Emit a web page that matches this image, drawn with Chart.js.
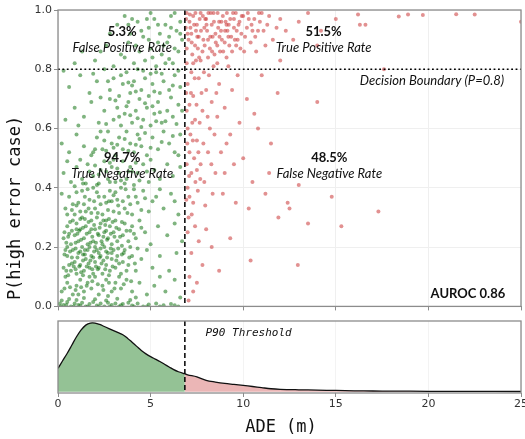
<!DOCTYPE html>
<html>
<head>
<meta charset="utf-8">
<script src="https://cdn.jsdelivr.net/npm/chart.js@4"></script>
<style>
html, body { margin: 0; padding: 0; background: #fff; overflow: hidden; width: 525px; height: 439px; }
#topChart { position: absolute; left: 0; top: 0; }
#kdeChart { position: absolute; left: 0; top: 315px; }
</style>
</head>
<body>
<canvas id="topChart" width="540" height="315"></canvas>
<canvas id="kdeChart" width="540" height="124"></canvas>
<script>
// =========================
// Data
// =========================
const p90Threshold = 6.85;
const decisionP = 0.8;
const xTicks = [0, 5, 10, 15, 20, 25];
const yTicks = [0, 0.2, 0.4, 0.6, 0.8, 1.0];
const rateValues = ['5.3%', '51.5%', '94.7%', '48.5%'];
const rateNames = ['False Positive Rate', 'True Positive Rate', 'True Negative Rate', 'False Negative Rate'];
const aurocText = 'AUROC 0.86';

// ADE below threshold (green)
const greenPoints = [
  [0.1,0.01],[0.3,0.005],[0.5,0.015],[0.7,0.0],[0.9,0.01],[1.1,0.005],[1.3,0.012],[1.5,0.0],[1.7,0.008],[1.9,0.015],
  [2.1,0.003],[2.3,0.01],[2.5,0.0],[2.7,0.012],[2.9,0.005],[3.1,0.01],[3.3,0.0],[3.5,0.008],[3.8,0.012],[4.0,0.003],
  [4.3,0.01],[4.6,0.0],[4.9,0.006],[5.3,0.01],[5.7,0.004],[6.1,0.008],[6.5,0.0],[0.2,0.02],[0.6,0.025],[1.0,0.022],
  [1.4,0.028],[2.0,0.024],[2.6,0.02],[3.2,0.026],[3.9,0.022],
  [0.15,0.0],[0.45,0.005],[0.85,0.0],[1.2,0.003],[1.6,0.0],[2.2,0.0],[2.8,0.0],[3.4,0.004],[4.1,0.0],[4.8,0.0],[5.5,0.0],[6.3,0.004],
  [0.2,0.05],[0.5,0.08],[0.8,0.04],[1.0,0.07],[1.2,0.09],[1.4,0.05],[1.6,0.08],[1.8,0.06],[2.0,0.1],[2.2,0.04],
  [2.4,0.07],[2.6,0.09],[2.9,0.05],[3.1,0.08],[3.4,0.06],[3.7,0.09],[4.0,0.05],[4.4,0.08],[4.8,0.04],[5.2,0.07],
  [5.8,0.05],[6.3,0.09],[0.4,0.1],[1.1,0.04],[1.7,0.1],[2.7,0.035],[3.3,0.1],[4.2,0.03],[5.5,0.1],[6.6,0.03],
  [0.35,0.06],[0.65,0.065],[0.95,0.055],[1.25,0.065],[1.55,0.07],[1.85,0.085],[2.15,0.075],[2.45,0.055],[2.75,0.08],[3.05,0.06],
  [3.55,0.075],[3.95,0.085],
  [0.3,0.13],[0.5,0.17],[0.7,0.12],[0.8,0.19],[0.9,0.15],[1.0,0.11],[1.1,0.18],[1.2,0.14],[1.3,0.2],[1.4,0.12],
  [1.5,0.16],[1.6,0.19],[1.7,0.13],[1.8,0.17],[1.9,0.11],[2.0,0.15],[2.1,0.19],[2.2,0.13],[2.3,0.17],[2.4,0.11],
  [2.5,0.2],[2.6,0.14],[2.7,0.18],[2.8,0.12],[2.9,0.16],[3.0,0.19],[3.1,0.13],[3.2,0.17],[3.4,0.11],[3.5,0.15],
  [3.6,0.19],[3.8,0.14],[4.0,0.17],[4.2,0.12],[4.5,0.16],[4.8,0.19],[5.1,0.13],[5.5,0.17],[6.0,0.12],[6.4,0.18],
  [0.6,0.14],[1.05,0.165],[1.55,0.135],[1.95,0.185],[2.45,0.155],[2.85,0.195],[3.3,0.145],[0.4,0.19],[1.25,0.115],[2.15,0.125],
  [3.7,0.12],[4.3,0.195],[1.75,0.155],[2.35,0.145],[0.85,0.135],
  [0.45,0.12],[0.75,0.145],[0.95,0.125],[1.15,0.135],[1.35,0.155],[1.45,0.175],[1.65,0.145],[1.85,0.125],[2.05,0.135],[2.25,0.165],
  [2.55,0.125],[2.65,0.165],[2.95,0.135],[3.15,0.155],[3.45,0.175],[3.85,0.165],[4.15,0.145],[0.55,0.105],[1.35,0.105],[2.75,0.105],
  [0.35,0.175],[0.65,0.185],[0.95,0.195],[1.2,0.185],[1.45,0.19],[1.7,0.2],[2.0,0.2],[2.3,0.195],[2.6,0.185],[2.9,0.18],
  [3.25,0.195],[3.55,0.18],[0.75,0.165],[1.9,0.165],[2.2,0.18],[1.35,0.175],[0.5,0.2],[3.9,0.2],
  [0.3,0.23],[0.5,0.27],[0.7,0.21],[0.8,0.29],[0.9,0.24],[1.0,0.28],[1.1,0.22],[1.2,0.26],[1.3,0.3],[1.4,0.23],
  [1.5,0.27],[1.6,0.21],[1.7,0.25],[1.8,0.29],[1.9,0.22],[2.0,0.26],[2.1,0.3],[2.2,0.24],[2.3,0.28],[2.4,0.21],
  [2.5,0.25],[2.6,0.29],[2.7,0.23],[2.8,0.27],[2.9,0.21],[3.0,0.25],[3.1,0.29],[3.2,0.22],[3.3,0.26],[3.5,0.24],
  [3.6,0.28],[3.8,0.22],[4.0,0.27],[4.2,0.23],[4.4,0.29],[4.7,0.25],[5.0,0.21],[5.4,0.27],[5.9,0.24],[6.3,0.28],
  [6.7,0.22],[0.6,0.245],[1.15,0.255],[1.65,0.285],[2.05,0.215],[2.55,0.275],[3.05,0.235],[3.45,0.205],[0.45,0.215],[1.45,0.295],
  [2.25,0.265],[2.75,0.295],[3.9,0.255],[1.85,0.235],[2.45,0.235],
  [0.35,0.25],[0.55,0.235],[0.75,0.255],[0.95,0.215],[1.05,0.245],[1.25,0.225],[1.35,0.265],[1.55,0.245],[1.75,0.215],[1.95,0.275],
  [2.15,0.245],[2.35,0.22],[2.65,0.225],[2.85,0.245],[3.15,0.265],[3.35,0.235],[3.7,0.255],[4.1,0.245],[4.5,0.265],[0.65,0.285],
  [1.2,0.295],[2.45,0.29],[2.95,0.285],[3.45,0.285],[1.0,0.26],[1.8,0.26],[2.6,0.255],
  [0.4,0.33],[0.6,0.37],[0.9,0.31],[1.1,0.35],[1.3,0.39],[1.5,0.32],[1.7,0.36],[1.9,0.4],[2.0,0.33],[2.2,0.37],
  [2.4,0.31],[2.6,0.35],[2.8,0.39],[3.0,0.32],[3.2,0.36],[3.4,0.4],[3.6,0.33],[3.8,0.37],[4.0,0.31],[4.3,0.35],
  [4.6,0.39],[4.9,0.32],[5.3,0.37],[5.7,0.33],[6.1,0.38],[6.5,0.31],[0.2,0.38],[1.0,0.385],[1.4,0.345],[1.8,0.315],
  [2.3,0.345],[2.7,0.325],[3.1,0.385],[3.5,0.355],[4.1,0.395],[4.5,0.325],[5.1,0.355],[2.1,0.385],[1.6,0.395],[2.9,0.355],
  [3.3,0.315],[0.8,0.345],[5.5,0.395],[6.3,0.355],[3.9,0.345],
  [0.5,0.31],[0.75,0.325],[1.0,0.34],[1.2,0.32],[1.45,0.37],[1.65,0.33],[1.95,0.355],[2.15,0.315],[2.5,0.37],[2.75,0.355],
  [3.0,0.375],[3.25,0.34],[3.65,0.395],[3.75,0.315],[4.2,0.37],[0.9,0.405],[1.35,0.415],[2.2,0.415],[2.8,0.42],[3.4,0.425],[4.7,0.365],
  [0.3,0.45],[0.7,0.42],[1.0,0.47],[1.3,0.43],[1.6,0.48],[1.9,0.44],[2.1,0.41],[2.3,0.46],[2.5,0.49],[2.7,0.43],
  [2.9,0.47],[3.1,0.42],[3.3,0.45],[3.5,0.49],[3.7,0.43],[3.9,0.47],[4.1,0.41],[4.3,0.45],[4.6,0.48],[4.9,0.42],
  [5.2,0.46],[5.5,0.43],[5.9,0.48],[6.2,0.44],[6.6,0.47],[1.5,0.415],[2.0,0.475],[2.6,0.455],[3.0,0.495],[3.6,0.415],
  [4.0,0.455],[4.4,0.425],[5.0,0.495],[0.5,0.49],[1.2,0.495],
  [1.7,0.455],[2.2,0.445],[2.8,0.485],[3.2,0.465],[3.8,0.455],[4.2,0.485],[4.8,0.455],
  [0.2,0.55],[0.6,0.52],[1.0,0.58],[1.4,0.54],[1.8,0.51],[2.1,0.57],[2.4,0.53],[2.7,0.59],[2.9,0.55],[3.1,0.51],
  [3.3,0.57],[3.5,0.53],[3.7,0.59],[3.9,0.55],[4.1,0.52],[4.3,0.58],[4.5,0.54],[4.8,0.51],[5.1,0.57],[5.4,0.53],
  [5.7,0.59],[6.0,0.55],[6.3,0.52],[6.6,0.58],[2.5,0.56],[3.0,0.535],[3.6,0.565],[4.2,0.545],[4.7,0.585],[2.0,0.53],
  [1.9,0.52],[2.3,0.59],[2.6,0.525],[3.2,0.545],[3.8,0.525],[4.4,0.565],[5.0,0.535],[5.6,0.555],[6.2,0.575],[6.5,0.51],
  [0.4,0.63],[0.9,0.67],[1.4,0.64],[1.8,0.69],[2.2,0.62],[2.5,0.66],[2.8,0.7],[3.0,0.63],[3.2,0.67],[3.4,0.61],
  [3.6,0.65],[3.8,0.69],[4.0,0.62],[4.2,0.66],[4.4,0.7],[4.6,0.63],[4.8,0.67],[5.0,0.61],[5.2,0.65],[5.4,0.69],
  [5.6,0.62],[5.9,0.66],[6.2,0.64],[6.5,0.68],[3.1,0.695],[3.9,0.645],[4.5,0.605],[2.6,0.615],[1.1,0.61],[5.3,0.625],
  [3.3,0.64],[3.7,0.675],[4.3,0.635],[4.7,0.685],[5.1,0.675],[5.5,0.655],[5.8,0.625],[6.4,0.615],[6.7,0.66],
  [0.6,0.74],[1.2,0.78],[1.7,0.72],[2.1,0.76],[2.5,0.8],[2.8,0.73],[3.0,0.77],[3.3,0.71],[3.5,0.75],[3.7,0.79],
  [3.9,0.72],[4.1,0.76],[4.3,0.8],[4.5,0.73],[4.7,0.77],[4.9,0.71],[5.1,0.75],[5.3,0.79],[5.5,0.72],[5.7,0.76],
  [6.0,0.73],[6.3,0.78],[6.6,0.74],[0.3,0.795],[1.9,0.785],[4.0,0.745],[5.0,0.785],[6.1,0.705],
  [3.4,0.78],[3.8,0.755],[4.2,0.725],[4.6,0.795],[5.2,0.725],[5.6,0.785],[6.2,0.745],[6.5,0.795],[2.3,0.705],[2.7,0.76],
  [1.3,0.86],[2.0,0.83],[2.6,0.88],[3.0,0.81],[3.4,0.85],[3.8,0.89],[4.1,0.82],[4.4,0.86],[4.7,0.83],[5.0,0.87],
  [5.3,0.81],[5.6,0.85],[5.9,0.89],[6.2,0.82],[6.5,0.86],[6.7,0.9],[4.9,0.9],[5.7,0.88],[2.3,0.86],[3.6,0.84],
  [0.9,0.82],[6.0,0.835],[4.2,0.88],[4.5,0.93],[5.1,0.84],[5.4,0.89],[5.8,0.82],[6.3,0.87],[6.6,0.92],
  [3.2,0.95],[3.9,0.92],[4.3,0.96],[4.6,0.91],[4.9,0.94],[5.2,0.97],[5.5,0.92],[5.8,0.95],[6.1,0.98],[6.4,0.93],
  [6.6,0.96],[2.8,0.92],[3.6,0.98],[5.0,0.99],[6.0,0.91],[5.4,0.95],[6.3,0.99],[4.0,0.97],[4.8,0.97],[3.8,0.95],[6.1,0.94]
];

// ADE above threshold (red)
const redPoints = [
  [6.95,0.99],[7.1,0.96],[7.2,0.92],[7.3,0.98],[7.4,0.88],[7.5,0.95],[7.6,0.91],[7.7,0.99],[7.8,0.86],[7.9,0.94],
  [8.0,0.97],[8.1,0.9],[8.2,0.87],[8.3,0.95],[8.4,0.99],[8.5,0.92],[8.6,0.88],[8.7,0.96],[8.8,0.93],[8.9,0.98],
  [9.0,0.89],[9.1,0.95],[9.2,0.91],[9.3,0.97],[9.4,0.86],[9.5,0.94],[9.6,0.99],[9.7,0.9],[9.8,0.96],[9.9,0.92],
  [10.0,0.98],[10.2,0.94],[10.4,0.89],[10.6,0.97],[10.8,0.93],[11.0,0.99],[11.3,0.95],[11.6,0.9],[12.0,0.97],[12.3,0.93],
  [7.05,0.9],[7.25,0.85],[7.45,0.93],[7.65,0.97],[7.85,0.9],[8.05,0.93],[8.25,0.99],[8.45,0.85],[8.65,0.94],[8.85,0.9],
  [9.05,0.96],[9.25,0.88],[9.45,0.99],[9.65,0.93],[9.85,0.87],[10.1,0.91],[10.3,0.97],[10.5,0.93],[10.7,0.86],[10.9,0.96],
  [11.2,0.88],[7.15,0.94],[7.55,0.87],[7.95,0.97],[8.35,0.91],[8.75,0.86],[9.15,0.93],[9.55,0.9],[6.9,0.94],[6.95,0.87],
  [6.92,0.97],[7.0,0.92],[7.12,0.985],[7.22,0.89],[7.35,0.95],[7.42,0.99],[7.52,0.91],[7.62,0.84],[7.72,0.93],[7.82,0.98],
  [7.92,0.88],[8.02,0.95],[8.12,0.99],[8.22,0.91],[8.32,0.86],[8.42,0.96],[8.52,0.89],[8.62,0.99],[8.72,0.91],[8.82,0.96],
  [8.92,0.86],[9.02,0.93],[9.12,0.99],[9.22,0.95],[9.35,0.91],[9.5,0.97],[9.62,0.88],[9.75,0.95],[9.92,0.98],[10.05,0.86],
  [10.25,0.99],[10.45,0.95],[10.65,0.91],[10.85,0.99],[11.1,0.93],[11.4,0.98],[11.8,0.94],[7.3,0.82],[7.7,0.83],[8.1,0.84],
  [8.6,0.82],[9.1,0.84],
  [6.95,0.82],[7.0,0.75],[7.1,0.68],[7.2,0.79],[7.0,0.6],[7.1,0.52],[7.3,0.71],[7.4,0.63],[7.2,0.45],[7.0,0.4],
  [7.5,0.56],[7.6,0.77],[7.3,0.35],[7.8,0.66],[7.7,0.48],[8.0,0.73],[8.2,0.6],[7.9,0.42],[8.1,0.52],[8.4,0.81],
  [8.3,0.69],[8.5,0.45],[7.05,0.3],[7.45,0.83],[7.15,0.58],[7.35,0.5],[7.55,0.39],[7.65,0.62],[7.75,0.72],[7.85,0.55],
  [7.95,0.34],[8.15,0.78],[8.35,0.38],[8.45,0.58],[6.95,0.48],[6.95,0.66],[7.25,0.62],[7.5,0.46],[7.1,0.37],[8.6,0.64],
  [8.7,0.75],[8.8,0.52],[9.0,0.67],[9.2,0.81],[9.3,0.58],
  [6.92,0.72],[6.98,0.55],[7.08,0.44],[7.18,0.72],[7.28,0.56],[7.38,0.77],[7.48,0.68],[7.58,0.52],[7.68,0.43],[7.88,0.79],
  [8.08,0.64],[8.28,0.48],[6.93,0.36],[7.22,0.31],[7.42,0.42],[8.55,0.72],[9.1,0.55],[9.7,0.78],[10.6,0.65],[11.4,0.45],
  [9.0,0.45],[9.4,0.73],[9.6,0.35],[9.8,0.62],[10.0,0.5],[10.2,0.7],[10.5,0.42],[10.8,0.6],[11.0,0.78],[11.2,0.38],
  [11.5,0.55],[11.86,0.72],[12.0,0.83],[12.4,0.35],[12.5,0.33],[13.0,0.41],[13.5,0.28],[14.0,0.69],[14.78,0.37],[15.3,0.27],
  [17.3,0.32],[11.9,0.3],[9.5,0.48],[10.3,0.33],[8.9,0.38],
  [7.0,0.25],[7.2,0.18],[7.4,0.27],[7.1,0.1],[7.6,0.22],[7.3,0.05],[7.8,0.14],[8.0,0.26],[8.3,0.2],[7.05,0.02],
  [8.7,0.12],[9.3,0.23],[10.4,0.155],[12.95,0.14],[7.5,0.08],
  [13.0,0.96],[13.5,0.99],[14.2,0.93],[15.0,0.97],[16.2,0.985],[16.3,0.95],[16.6,0.95],[17.6,0.8],[18.4,0.978],[18.9,0.985],
  [19.7,0.983],[21.5,0.986],[22.5,0.985],[25.0,0.96],[14.0,0.88],[12.7,0.9]
];

// ADE density curve (peak scaled to 1)
const kdeX = [0,0.25,0.5,0.75,1,1.25,1.5,1.75,2,2.25,2.5,2.75,3,3.25,3.5,3.75,4,4.25,4.5,4.75,5,5.25,5.5,5.75,6,6.25,6.5,6.85,
              7,7.5,8,8.5,9,9.5,10,10.5,11,11.5,12,13,14,15,16,17,18,20,22,25];
const kdeY = [0.34,0.45,0.56,0.68,0.80,0.90,0.97,1.0,1.0,0.98,0.95,0.92,0.89,0.86,0.83,0.78,0.72,0.66,0.60,0.55,0.51,0.475,0.44,0.40,0.36,0.32,0.29,0.26,
              0.245,0.215,0.165,0.14,0.12,0.105,0.09,0.075,0.058,0.042,0.034,0.027,0.022,0.017,0.012,0.009,0.007,0.005,0.003,0.002];

// =========================
// Shared style
// =========================
const frameGray = '#8c8c8c';
const tickFont = { family: 'DejaVu Sans', size: 11 };
const tickColor = '#333';
const labelFont = 'Lato, "Noto Sans", sans-serif';
Chart.defaults.font.family = 'DejaVu Sans';
Chart.defaults.animation = false;

const kdePairs = kdeX.map((x, i) => ({ x: x, y: kdeY[i] }));
const kdeGreen = kdePairs.filter(p => p.x <= p90Threshold);
const kdeRed = kdePairs.filter(p => p.x >= p90Threshold);

function setTicks(values) {
    return scale => { scale.ticks = values.map(v => ({ value: v })); };
}

// =========================
// Top: scatter overlay plugin
// =========================
const topOverlay = {
    id: 'topOverlay',
    afterDatasetsDraw(chart) {
        const { ctx, chartArea: a, scales: { x, y } } = chart;
        ctx.save();
        ctx.strokeStyle = '#000';
        ctx.lineWidth = 1.5;

        // decision boundary
        ctx.setLineDash([1.8, 2.6]);
        const by = y.getPixelForValue(decisionP);
        ctx.beginPath(); ctx.moveTo(a.left, by); ctx.lineTo(a.right, by); ctx.stroke();

        // threshold
        ctx.setLineDash([5, 3]);
        const tx = x.getPixelForValue(p90Threshold);
        ctx.beginPath(); ctx.moveTo(tx, a.top); ctx.lineTo(tx, a.bottom); ctx.stroke();
        ctx.setLineDash([]);

        // frame
        ctx.strokeStyle = frameGray;
        ctx.lineWidth = 1.3;
        ctx.strokeRect(a.left, a.top, a.width, a.height);

        // rate labels
        ctx.fillStyle = '#111';
        ctx.textAlign = 'center';
        ctx.textBaseline = 'middle';
        const spots = [[3.47, 0.927, 0.873], [14.34, 0.927, 0.873], [3.47, 0.502, 0.447], [14.65, 0.500, 0.447]];
        spots.forEach((s, i) => {
            const px = x.getPixelForValue(s[0]);
            ctx.font = 'bold 13px ' + labelFont;
            ctx.fillText(rateValues[i], px, y.getPixelForValue(s[1]));
            ctx.font = 'italic 13px ' + labelFont;
            ctx.fillText(rateNames[i], px, y.getPixelForValue(s[2]));
        });

        ctx.textAlign = 'right';
        ctx.font = 'italic 13px ' + labelFont;
        ctx.fillText('Decision Boundary (P=0.8)', x.getPixelForValue(24.09), y.getPixelForValue(0.761));
        ctx.font = 'bold 13px ' + labelFont;
        ctx.fillText(aurocText, x.getPixelForValue(24.15), y.getPixelForValue(0.041));

        // y axis title
        ctx.translate(16, 208);
        ctx.rotate(-Math.PI / 2);
        ctx.textAlign = 'center';
        ctx.font = '17px "DejaVu Sans Mono", monospace';
        ctx.fillText('P(high error case)', 0, 0);
        ctx.restore();
    }
};

new Chart(document.getElementById('topChart'), {
    type: 'scatter',
    data: {
        datasets: [
            { label: 'below', data: greenPoints.map(p => ({ x: p[0], y: p[1] })),
              backgroundColor: 'rgba(0,105,0,0.5)', pointRadius: 2, borderWidth: 0 },
            { label: 'above', data: redPoints.map(p => ({ x: p[0], y: p[1] })),
              backgroundColor: 'rgba(205,65,65,0.58)', pointRadius: 2, borderWidth: 0 }
        ]
    },
    options: {
        responsive: false,
        layout: { padding: { top: 10, right: 19, left: 0, bottom: 0 } },
        plugins: { legend: { display: false }, tooltip: { enabled: false } },
        scales: {
            x: {
                type: 'linear', min: 0, max: 25,
                afterBuildTicks: setTicks(xTicks),
                ticks: { callback: () => '', font: tickFont },
                grid: { color: '#efefef', tickColor: frameGray, tickLength: 4 },
                border: { display: false },
                afterFit: s => { s.height = 5; }
            },
            y: {
                min: 0, max: 1,
                afterBuildTicks: setTicks(yTicks),
                ticks: { callback: v => v.toFixed(1), font: tickFont, color: tickColor, padding: 2 },
                grid: { color: '#efefef', tickColor: frameGray, tickLength: 4 },
                border: { display: false },
                afterFit: s => { s.width = 58; }
            }
        }
    },
    plugins: [topOverlay]
});

// =========================
// Bottom: ADE density
// =========================
const kdeOverlay = {
    id: 'kdeOverlay',
    afterDatasetsDraw(chart) {
        const { ctx, chartArea: a, scales: { x, y } } = chart;
        ctx.save();
        ctx.strokeStyle = '#000';
        ctx.lineWidth = 1.5;
        ctx.setLineDash([5, 3]);
        const tx = x.getPixelForValue(p90Threshold);
        ctx.beginPath(); ctx.moveTo(tx, a.top); ctx.lineTo(tx, a.bottom); ctx.stroke();
        ctx.setLineDash([]);

        ctx.strokeStyle = frameGray;
        ctx.lineWidth = 1.3;
        ctx.strokeRect(a.left, a.top, a.width, a.height);

        ctx.fillStyle = '#111';
        ctx.textBaseline = 'middle';
        ctx.textAlign = 'left';
        ctx.font = 'italic 11px "DejaVu Sans Mono", monospace';
        ctx.fillText('P90 Threshold', x.getPixelForValue(7.97), y.getPixelForValue(0.855));

        ctx.textAlign = 'center';
        ctx.font = '17px "DejaVu Sans Mono", monospace';
        ctx.fillText('ADE (m)', 281, 113);
        ctx.restore();
    }
};

new Chart(document.getElementById('kdeChart'), {
    type: 'line',
    data: {
        datasets: [
            { label: 'below', data: kdeGreen, borderColor: '#111', borderWidth: 1.3, pointRadius: 0,
              tension: 0.35, fill: 'origin', backgroundColor: '#94c295' },
            { label: 'above', data: kdeRed, borderColor: '#111', borderWidth: 1.3, pointRadius: 0,
              tension: 0.35, fill: 'origin', backgroundColor: '#ebb6b6' }
        ]
    },
    options: {
        responsive: false,
        layout: { padding: { top: 6, right: 19, left: 0, bottom: 0 } },
        plugins: { legend: { display: false }, tooltip: { enabled: false } },
        scales: {
            x: {
                type: 'linear', min: 0, max: 25,
                afterBuildTicks: setTicks(xTicks),
                ticks: { font: tickFont, color: tickColor, padding: 1, maxRotation: 0 },
                grid: { color: '#f3f3f3', tickColor: frameGray, tickLength: 4 },
                border: { display: false },
                afterFit: s => { s.height = 46; }
            },
            y: {
                min: -0.02, max: 1.03,
                ticks: { display: false },
                grid: { display: false },
                border: { display: false },
                afterFit: s => { s.width = 58; }
            }
        }
    },
    plugins: [kdeOverlay]
});
</script>
</body>
</html>
